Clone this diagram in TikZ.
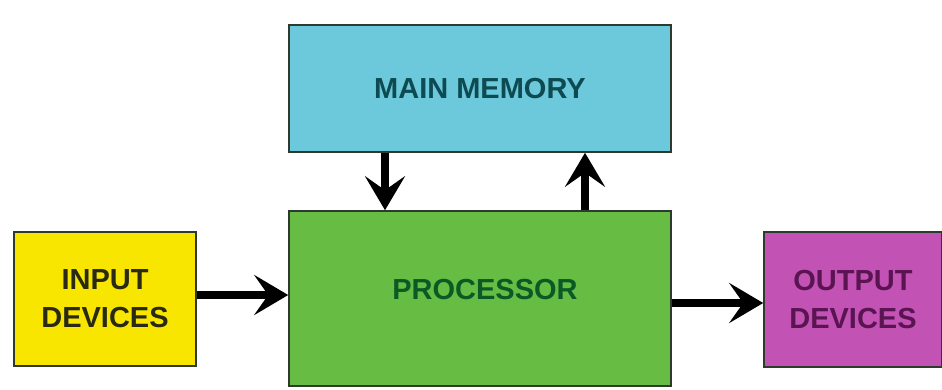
\documentclass[tikz,border=0pt]{standalone}
\usepackage{fontspec}
\setmainfont{Liberation Sans}
\usetikzlibrary{arrows.meta}
\definecolor{memfill}{HTML}{6CC9DC}
\definecolor{memtext}{HTML}{0E4A52}
\definecolor{procfill}{HTML}{67BC44}
\definecolor{proctext}{HTML}{0B5A25}
\definecolor{infill}{HTML}{F8E600}
\definecolor{intext}{HTML}{2A2A12}
\definecolor{outfill}{HTML}{C252B4}
\definecolor{outtext}{HTML}{5A1452}
\definecolor{edge}{HTML}{2E3A2E}
\tikzset{
  unit/.style={draw=edge, line width=1.6pt, rectangle, inner sep=0pt,
    align=center, font=\fontsize{29}{38}\selectfont\bfseries},
  flow/.style={line width=8pt, -{Stealth[length=34pt, width=40pt, inset=14pt]}}
}
\begin{document}
\begin{tikzpicture}[x=1pt,y=-1pt]
  \useasboundingbox (0,0) rectangle (942,389);
  % functional blocks
  \node[unit, fill=memfill, text=memtext, minimum width=382pt, minimum height=127pt]
    (mem) at (480,88.5) {MAIN MEMORY};
  \node[unit, fill=procfill, text=proctext, minimum width=382pt, minimum height=175pt]
    (proc) at (480,298.5) {};
  \node[font=\fontsize{29}{38}\selectfont\bfseries, text=proctext] (proclabel) at (485,290) {PROCESSOR};
  \node[unit, fill=infill, text=intext, minimum width=182pt, minimum height=134pt]
    (in) at (105,299) {INPUT\\DEVICES};
  \node[unit, fill=outfill, text=outtext, minimum width=178pt, minimum height=135pt]
    (out) at (853,299.5) {OUTPUT\\DEVICES};
  % data paths
  \draw[flow] (in.east |- 0,295) -- (proc.west |- 0,295);
  \draw[flow] (proc.east |- 0,303) -- (out.west |- 0,303);
  \draw[flow] (mem.south -| 385,0) -- (proc.north -| 385,0);
  \draw[flow] (proc.north -| 585,0) -- (mem.south -| 585,0);
\end{tikzpicture}
\end{document}
